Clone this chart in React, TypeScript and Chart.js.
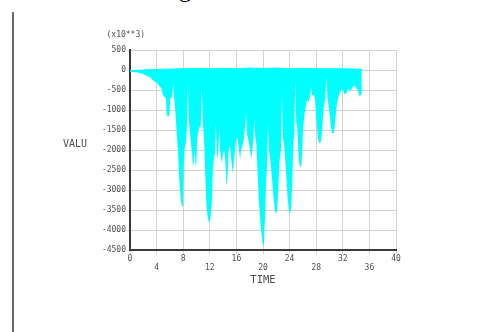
import React, { useEffect, useRef } from "react";
import { Chart, registerables } from "chart.js";

Chart.register(...registerables);

// ---- data ----
const timeValues = [
  0.0, 0.6, 1.2, 1.8, 2.4, 3.0, 3.5, 4.0, 4.4, 4.7, 4.9, 5.2, 5.4, 5.5, 5.7, 5.9,
  6.05, 6.2, 6.35, 6.5, 6.65, 6.8, 7.0, 7.2, 7.4, 7.6, 7.8, 7.95, 8.05, 8.2, 8.4, 8.55,
  8.7, 8.85, 9.0, 9.2, 9.35, 9.45, 9.6, 9.75, 9.85, 10.0, 10.1, 10.3, 10.5, 10.65, 10.8,
  10.95, 11.05, 11.2, 11.35, 11.5, 11.7, 11.9, 12.1, 12.3, 12.45, 12.6, 12.75, 12.9, 13.05,
  13.2, 13.35, 13.45, 13.55, 13.8, 14.0, 14.2, 14.35, 14.5, 14.65, 14.8, 15.0, 15.2,
  15.45, 15.65, 15.85, 16.0, 16.2, 16.4, 16.55, 16.7, 16.9, 17.1, 17.3, 17.45, 17.6,
  17.8, 18.0, 18.25, 18.45, 18.55, 18.7, 18.85, 19.0, 19.2, 19.4, 19.6, 19.8, 20.0, 20.15,
  20.3, 20.45, 20.6, 20.75, 20.9, 21.1, 21.35, 21.6, 21.85, 22.1, 22.3, 22.45, 22.7,
  22.85, 23.0, 23.2, 23.45, 23.7, 23.95, 24.2, 24.4, 24.55, 24.7, 24.85, 25.0, 25.15,
  25.35, 25.55, 25.75, 25.9, 26.05, 26.25, 26.45, 26.65, 26.85, 27.05, 27.25, 27.4, 27.6,
  27.8, 28.0, 28.25, 28.45, 28.7, 28.9, 29.1, 29.35, 29.55, 29.7, 29.95, 30.2, 30.4,
  30.65, 30.85, 31.05, 31.3, 31.55, 31.8, 32.05, 32.3, 32.55, 32.8, 33.05, 33.3, 33.55,
  33.8, 34.05, 34.3, 34.5, 34.65, 34.8, 34.85,
];

const lowerValues = [
  -40, -55, -65, -90, -140, -180, -260, -320, -400, -450, -600, -680, -700, -1100, -1170, -1150,
  -750, -680, -650, -330, -700, -1000, -1500, -2000, -2700, -3200, -3420, -3400, -2500, -2000, -1800, -1500,
  -330, -1300, -1500, -1900, -2100, -2420, -2300, -2000, -2420, -2300, -1700, -1500, -1420, -1400, -420,
  -1400, -1500, -2000, -2800, -3400, -3700, -3830, -3700, -3300, -2500, -2250, -2100, -1330, -2000,
  -2250, -1800, -1420, -2000, -2330, -2100, -2000, -2300, -2920, -2700, -2100, -1830, -2200,
  -2580, -2300, -1900, -1670, -1750, -2000, -2250, -2000, -1900, -1750, -1400, -1080, -1600,
  -1750, -1950, -2210, -1900, -1700, -1250, -1700, -1850, -2600, -3300, -3800, -4150, -4380, -4250,
  -3700, -2830, -2400, -1330, -2000, -2250, -2700, -3200, -3580, -3550, -3000, -2330, -2000,
  -580, -1700, -1920, -2500, -3200, -3600, -3500, -2800, -1830, -1600, -250, -1300, -1420,
  -2200, -2420, -2420, -2000, -1420, -1100, -900, -750, -800, -700, -420, -650, -620,
  -700, -1200, -1700, -1830, -1800, -1500, -1000, -700, -170, -700, -1000, -1400, -1580,
  -1580, -1300, -920, -700, -580, -480, -520, -620, -580, -470, -540, -480, -420,
  -380, -460, -520, -670, -640, -600, 0,
];

const upperTimes = [0, 2, 5, 8, 10, 12, 14, 16, 18, 20, 22, 24, 26, 28, 30, 32, 34.8, 34.85];
const upperValues = [-20, 0, 20, 30, 40, 30, 40, 30, 50, 40, 50, 30, 40, 30, 30, 30, 20, 0];

const xTicks = [0, 4, 8, 12, 16, 20, 24, 28, 32, 36, 40];
const yTicks = [500, 0, -500, -1000, -1500, -2000, -2500, -3000, -3500, -4000, -4500];

const xTitle = "TIME";
const yTitle = "VALU";
const scaleNote = "(x10**3)";

const CYAN = "#00ffff";
const TEXT = "#505050";
const MONO = '"DejaVu Sans Mono", monospace';

const textPlugin = {
  id: "ansysTexts",
  afterDraw(chart: any) {
    const { ctx, chartArea } = chart;
    ctx.save();
    ctx.fillStyle = TEXT;
    ctx.font = `10.5px ${MONO}`;
    ctx.textAlign = "center";
    ctx.textBaseline = "middle";
    ctx.fillText(xTitle, (chartArea.left + chartArea.right) / 2, chartArea.bottom + 30.5);
    ctx.font = `10px ${MONO}`;
    ctx.fillText(yTitle, chartArea.left - 55, (chartArea.top + chartArea.bottom) / 2 - 5.5);
    ctx.font = `8px ${MONO}`;
    ctx.textAlign = "left";
    ctx.fillText(scaleNote, chartArea.left - 23.5, chartArea.top - 15.5);
    ctx.restore();
  },
};

export default function App() {
  const ref = useRef<HTMLCanvasElement | null>(null);

  useEffect(() => {
    const canvas = ref.current;
    if (!canvas) return;
    const lower = timeValues.map((t, i) => ({ x: t, y: lowerValues[i] }));
    const upper = upperTimes.map((t, i) => ({ x: t, y: upperValues[i] }));

    const chart = new Chart(canvas, {
      type: "line",
      data: {
        datasets: [
          {
            data: upper,
            borderColor: CYAN,
            backgroundColor: CYAN,
            borderWidth: 1,
            pointRadius: 0,
            fill: false,
          },
          {
            data: lower,
            borderColor: CYAN,
            backgroundColor: CYAN,
            borderWidth: 0,
            pointRadius: 0,
            fill: "-1",
          },
        ],
      },
      options: {
        responsive: false,
        animation: false,
        layout: { padding: { left: 0, top: 50, right: 105, bottom: 0 } },
        plugins: { legend: { display: false }, tooltip: { enabled: false } },
        scales: {
          x: {
            type: "linear",
            min: 0,
            max: 40,
            afterBuildTicks: (s: any) => {
              s.ticks = xTicks.map((v) => ({ value: v }));
            },
            afterFit: (s: any) => {
              s.height = 82;
            },
            ticks: {
              autoSkip: false,
              maxRotation: 0,
              padding: 0,
              color: TEXT,
              font: { family: MONO, size: 8 },
              callback: (v: any, i: number) => (i % 2 === 0 ? String(v) : ["", String(v)]),
            },
            grid: { color: "#d2d2d2", lineWidth: 1, tickLength: 4 },
            border: { color: "#3a3a3a", width: 2 },
          },
          y: {
            type: "linear",
            min: -4500,
            max: 500,
            afterBuildTicks: (s: any) => {
              s.ticks = yTicks.map((v) => ({ value: v }));
            },
            afterFit: (s: any) => {
              s.width = 130;
            },
            ticks: {
              padding: 1,
              color: TEXT,
              font: { family: MONO, size: 8 },
              callback: (v: any) => String(v),
            },
            grid: { color: "#d2d2d2", lineWidth: 1, tickLength: 3 },
            border: { color: "#3a3a3a", width: 2 },
          },
        },
      },
      plugins: [textPlugin],
    });
    return () => chart.destroy();
  }, []);

  return (
    <div
      style={{
        position: "fixed",
        left: 0,
        top: 0,
        width: 501,
        height: 332,
        background: "#fff",
        overflow: "hidden",
      }}
    >
      <div
        style={{
          position: "absolute",
          left: 179,
          top: -23,
          fontFamily: '"Liberation Serif", serif',
          fontSize: 24,
          lineHeight: "24px",
          color: "#000",
        }}
      >
        g
      </div>
      <div
        style={{
          position: "absolute",
          left: 12,
          top: 12,
          width: 1.5,
          height: 320,
          background: "#6a6a6a",
        }}
      />
      <canvas ref={ref} width={501} height={332} style={{ position: "absolute", left: 0, top: 0 }} />
    </div>
  );
}
